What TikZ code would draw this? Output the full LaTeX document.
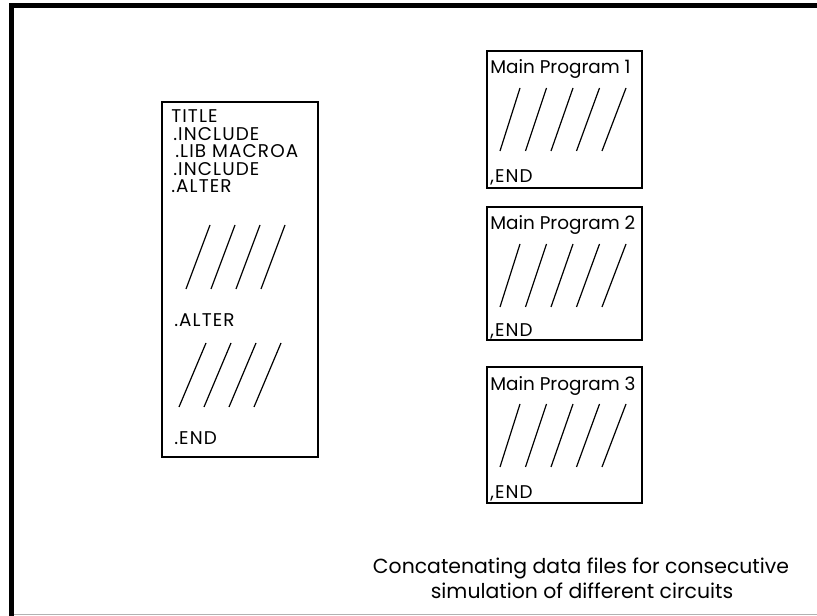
\documentclass[tikz,border=0pt]{standalone}
\usepackage{fontspec}
\setmainfont{Poppins}
\begin{document}
\begin{tikzpicture}[x=0.75pt,y=-0.75pt,
  txt/.style={anchor=base west,inner sep=0pt,font=\fontsize{13.8pt}{16pt}\selectfont},
  uptxt/.style={txt,font=\fontsize{13.8pt}{16pt}\selectfont\addfontfeatures{LetterSpace=6}},
  captxt/.style={anchor=base,inner sep=0pt,font=\fontsize{15.3pt}{17pt}\selectfont},
  boxline/.style={draw=black,line width=1.8pt},
  slash/.style={draw=black,line width=0.9pt}]
\useasboundingbox (0,0) rectangle (817,616);
% outer frame
\draw[line width=3.75pt] (11.5,616) -- (11.5,5.5) -- (817,5.5);
\draw[gray!60,line width=1.1pt] (14,614.5) -- (817,614.5);
% left box
\draw[boxline] (162,102) rectangle (318,457);
\node[uptxt] (t1) at (171,123) {TITLE};
\node[uptxt] (t2) at (173,140.5) {.INCLUDE};
\node[uptxt] (t3) at (175,158) {.LIB MACROA};
\node[uptxt] (t4) at (173,175.5) {.INCLUDE};
\node[uptxt] (t5) at (171,193) {.ALTER};
\foreach \i in {0,...,3} {
  \draw[slash] (186+25*\i,289) -- (210+25*\i,225);
}
\node[uptxt] (t6) at (174,327) {.ALTER};
\foreach \i in {0,...,3} {
  \draw[slash] (179+25*\i,407) -- (206+25*\i,343);
}
\node[uptxt] (t7) at (174,444) {.END};
% right boxes
\foreach \n/\top/\bot in {1/51/188, 2/207/340, 3/367/503} {
  \draw[boxline] (487,\top) rectangle (642,\bot);
}
\node[txt] (m1) at (490,74) {Main Program 1};
\node[uptxt] (e1) at (490,183) {,END};
\node[txt] (m2) at (490,230) {Main Program 2};
\node[uptxt] (e2) at (490,337) {,END};
\node[txt] (m3) at (490,390) {Main Program 3};
\node[uptxt] (e3) at (490,498) {,END};
\foreach \y in {88,244,404} {
  \foreach \i in {0,...,4} {
    \draw[slash] (500+25.5*\i,\y+63) -- (520+26.5*\i,\y);
  }
}
% caption
\node[captxt] (c1) at (581,573) {Concatenating data files for consecutive};
\node[captxt] (c2) at (582,598) {simulation of different circuits};
\end{tikzpicture}
\end{document}
